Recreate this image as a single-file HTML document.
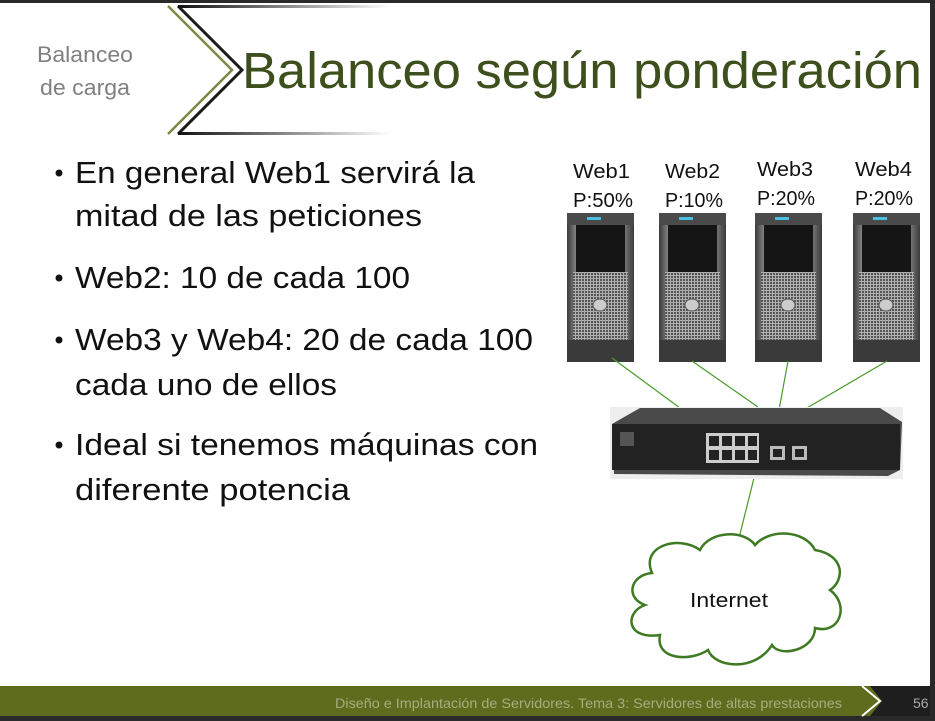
<!DOCTYPE html>
<html><head><meta charset="utf-8"><style>
html,body{margin:0;padding:0;background:#fff}
svg{display:block}
text{font-family:"Liberation Sans",sans-serif}
</style></head><body>
<svg width="935" height="721" viewBox="0 0 935 721" xmlns="http://www.w3.org/2000/svg">
<defs>
<linearGradient id="fo" x1="0" x2="1"><stop offset="0" stop-color="#8a9a60" stop-opacity="0"/><stop offset="1" stop-color="#8a9a60"/></linearGradient>
<linearGradient id="fb" x1="0" x2="1"><stop offset="0" stop-color="#111"/><stop offset="1" stop-color="#111" stop-opacity="0"/></linearGradient>
<linearGradient id="sv" x1="0" x2="1"><stop offset="0" stop-color="#3a3a3a"/><stop offset="0.15" stop-color="#8a8a8a"/><stop offset="0.5" stop-color="#a0a0a0"/><stop offset="0.85" stop-color="#7a7a7a"/><stop offset="1" stop-color="#3a3a3a"/></linearGradient>
<pattern id="grid" width="3" height="3" patternUnits="userSpaceOnUse"><rect width="3" height="3" fill="#b0b0b0"/><rect width="2" height="2" fill="#555"/></pattern>
<g id="srv">
<rect x="0" y="0" width="67" height="149" fill="url(#sv)"/>
<rect x="0" y="0" width="67" height="12" fill="#4a4a4a"/>
<rect x="20" y="4" width="14" height="3" fill="#4ac0e0"/>
<rect x="9" y="12" width="49" height="47" fill="#151515"/>
<rect x="6" y="59" width="55" height="68" fill="url(#grid)"/>
<ellipse cx="33" cy="92" rx="7" ry="6" fill="#ccc" stroke="#555"/>
<rect x="0" y="127" width="67" height="22" fill="#3a3a3a"/>
</g>
</defs>
<rect x="0" y="0" width="935" height="721" fill="#fff"/>
<rect x="0" y="0" width="935" height="3" fill="#2a2a2a"/>
<rect x="930" y="0" width="5" height="721" fill="#2a2a2a"/>
<rect x="0" y="716" width="935" height="5" fill="#2a2a2a"/>
<line x1="115" y1="6" x2="168" y2="6" stroke="url(#fo)" stroke-width="2"/>
<line x1="115" y1="134" x2="168" y2="134" stroke="url(#fo)" stroke-width="2"/>
<polyline points="168,6 232,70 168,134" fill="none" stroke="#7d8a45" stroke-width="2.5"/>
<polyline points="178,6 242,70 178,134" fill="none" stroke="#1a1a1a" stroke-width="3"/>
<rect x="178" y="5" width="212" height="3" fill="url(#fb)"/>
<rect x="178" y="132" width="212" height="3" fill="url(#fb)"/>
<text x="37" y="62" font-size="22" fill="#808080" textLength="96" lengthAdjust="spacingAndGlyphs">Balanceo</text>
<text x="40" y="95" font-size="22" fill="#808080" textLength="90" lengthAdjust="spacingAndGlyphs">de carga</text>
<text x="242" y="88" font-size="51" fill="#3d4f1c" textLength="680" lengthAdjust="spacingAndGlyphs">Balanceo según ponderación</text>
<g font-size="31" fill="#111">
<circle cx="59" cy="173" r="3.5"/><circle cx="59" cy="278" r="3.5"/><circle cx="59" cy="340" r="3.5"/><circle cx="59" cy="445" r="3.5"/>
<text x="75" y="183" textLength="400" lengthAdjust="spacingAndGlyphs">En general Web1 servirá la</text>
<text x="75" y="226" textLength="347" lengthAdjust="spacingAndGlyphs">mitad de las peticiones</text>
<text x="75" y="288" textLength="335" lengthAdjust="spacingAndGlyphs">Web2: 10 de cada 100</text>
<text x="75" y="350" textLength="458" lengthAdjust="spacingAndGlyphs">Web3 y Web4: 20 de cada 100</text>
<text x="75" y="395" textLength="262" lengthAdjust="spacingAndGlyphs">cada uno de ellos</text>
<text x="75" y="455" textLength="463" lengthAdjust="spacingAndGlyphs">Ideal si tenemos máquinas con</text>
<text x="75" y="500" textLength="275" lengthAdjust="spacingAndGlyphs">diferente potencia</text>
</g>
<g font-size="20" fill="#111">
<text x="573" y="178" textLength="57" lengthAdjust="spacingAndGlyphs">Web1</text><text x="573" y="207" textLength="60" lengthAdjust="spacingAndGlyphs">P:50%</text>
<text x="665" y="178" textLength="55" lengthAdjust="spacingAndGlyphs">Web2</text><text x="665" y="207" textLength="58" lengthAdjust="spacingAndGlyphs">P:10%</text>
<text x="757" y="176" textLength="56" lengthAdjust="spacingAndGlyphs">Web3</text><text x="757" y="205" textLength="58" lengthAdjust="spacingAndGlyphs">P:20%</text>
<text x="855" y="176" textLength="57" lengthAdjust="spacingAndGlyphs">Web4</text><text x="855" y="205" textLength="58" lengthAdjust="spacingAndGlyphs">P:20%</text>
</g>
<use href="#srv" x="567" y="213"/>
<use href="#srv" x="659" y="213"/>
<use href="#srv" x="755" y="213"/>
<use href="#srv" x="853" y="213"/>
<g stroke="#4a9a2a" stroke-width="1.2">
<line x1="612" y1="358" x2="680" y2="408"/>
<line x1="692" y1="361" x2="758" y2="407"/>
<line x1="788" y1="361" x2="779" y2="410"/>
<line x1="887" y1="361" x2="800" y2="412"/>
<line x1="754" y1="478" x2="738" y2="542"/>
</g>
<rect x="610" y="407" width="293" height="72" fill="#eee"/>
<polygon points="612,424 640,408 880,408 902,422 900,470 888,476 614,474" fill="#4a4a4a"/>
<rect x="612" y="424" width="288" height="46" fill="#222"/>
<rect x="620" y="432" width="14" height="14" fill="#555"/>
<rect x="706" y="433" width="53" height="30" fill="#ccc"/>
<g fill="#222"><rect x="709" y="436" width="10" height="10"/><rect x="722" y="436" width="10" height="10"/><rect x="735" y="436" width="10" height="10"/><rect x="748" y="436" width="9" height="10"/><rect x="709" y="450" width="10" height="10"/><rect x="722" y="450" width="10" height="10"/><rect x="735" y="450" width="10" height="10"/><rect x="748" y="450" width="9" height="10"/></g>
<rect x="770" y="446" width="15" height="14" fill="#bbb"/><rect x="792" y="446" width="15" height="14" fill="#bbb"/>
<rect x="773" y="449" width="9" height="8" fill="#222"/><rect x="795" y="449" width="9" height="8" fill="#222"/>
<path d="M652,573 C640,545 680,535 700,550 C710,530 745,530 755,545 C770,528 805,530 815,550 C845,555 845,580 830,590 C850,605 840,635 815,628 C815,650 780,658 772,645 C755,672 715,668 708,650 C690,662 655,660 660,635 C625,640 625,612 645,605 C625,598 630,575 652,573 Z" fill="#fff" stroke="#3d7a22" stroke-width="2.5"/>
<text x="690" y="607" font-size="20" fill="#111" textLength="78" lengthAdjust="spacingAndGlyphs">Internet</text>
<rect x="0" y="686" width="930" height="30" fill="#5f6b1d"/>
<polygon points="870,686 930,686 930,716 870,716 882,701" fill="#1e1e1e"/>
<polyline points="862,686 880,701 862,716" fill="none" stroke="#fff" stroke-width="2"/>
<text x="335" y="708" font-size="14" fill="#a8ad80" textLength="507" lengthAdjust="spacingAndGlyphs">Diseño e Implantación de Servidores. Tema 3: Servidores de altas prestaciones</text>
<text x="913" y="708" font-size="14" fill="#aaa">56</text>
</svg>
</body></html>
